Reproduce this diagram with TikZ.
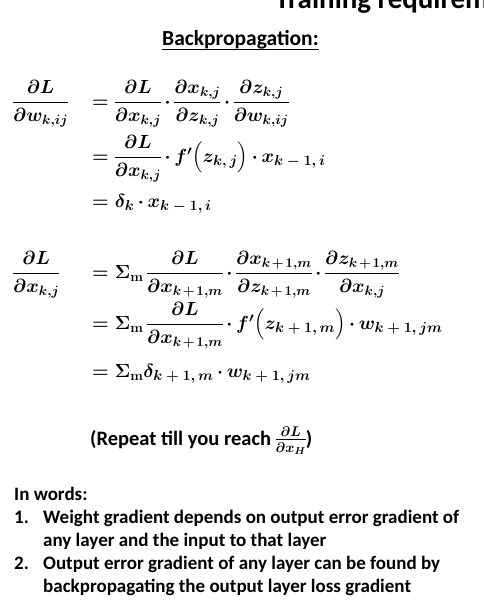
\RequirePackage{fix-cm}
\documentclass[tikz,border=0pt]{standalone}
\usepackage{amsmath}
\usepackage[no-math]{fontspec}
\setmainfont{Carlito}
\usetikzlibrary{positioning}
\DeclareMathSizes{19}{19}{13.5}{10}
\DeclareMathSizes{20.5}{20.5}{14}{10}
\setlength{\nulldelimiterspace}{0pt}
\newcommand{\kpo}{k\mskip2mu{+}\mskip2mu1}
\newcommand{\dt}{\mskip3mu{\cdot}\mskip3mu}
\newcommand{\osub}[1]{\text{\boldmath\fontsize{14.5}{15}\selectfont$#1$}}
\tikzset{%
  heading/.style = {anchor=base west, inner sep=0pt,%
                    font=\bfseries\fontsize{29}{34}\selectfont},%
  subhead/.style = {anchor=base west, inner sep=0pt,%
                    font=\bfseries\fontsize{21.5}{25}\selectfont},%
  words/.style   = {anchor=base west, inner sep=0pt,%
                    font=\bfseries\fontsize{19}{23}\selectfont},%
  eqn/.style     = {anchor=base west, inner sep=0pt,%
                    font=\boldmath\fontsize{19}{23}\selectfont},%
  note/.style    = {words, font=\bfseries\boldmath\fontsize{20.5}{24}\selectfont}%
}

\begin{document}
\begin{tikzpicture}[x=1pt,y=-1pt]%
	\useasboundingbox (0,0) rectangle (483,615);
	\clip (0,0) rectangle (483,615);
	\node [heading] (title) at (275,9) {Training requirem};
	\node [subhead] (bp) at (162,46) {Backpropagation:};
	\draw [line width=1pt] ([yshift=-4pt]bp.base west) -- ([yshift=-4pt]bp.base east);
	% weight gradient
	\node [eqn] (dw) at (13,107.5) {$\dfrac{\partial L}{\partial w_{k,ij}}$};
	\node [eqn] (dwa) at (92,107.5) {$=\dfrac{\partial L}{\partial x_{k,j}}\dt
		\dfrac{\partial x_{k,j}}{\partial z_{k,j}}\dt
		\dfrac{\partial z_{k,j}}{\partial w_{k,ij}}$};
	\node [eqn] (dwb) at (92,162.5) {$=\dfrac{\partial L}{\partial x_{k,j}}\dt
		f'\Big(z_{\osub{k,j}}\Big)\dt x_{\osub{k-1,i}}$};
	\node [eqn] (dwc) at (92,207) {$=\delta_{\osub{k}}\dt x_{\osub{k-1,i}}$};
	% output error gradient
	\node [eqn] (dx) at (13,278.5) {$\dfrac{\partial L}{\partial x_{k,j}}$};
	\node [eqn] (dxa) at (92,278.5) {$=\Sigma_{\mathrm{m}}\,\dfrac{\partial L}{\partial x_{\kpo,m}}\dt
		\dfrac{\partial x_{\kpo,m}}{\partial z_{\kpo,m}}\dt
		\dfrac{\partial z_{\kpo,m}}{\partial x_{k,j}}$};
	\node [eqn] (dxb) at (92,329.5) {$=\Sigma_{\mathrm{m}}\,\dfrac{\partial L}{\partial x_{\kpo,m}}\dt
		f'\Big(z_{\osub{k+1,m}}\Big)\dt w_{\osub{k+1,jm}}$};
	\node [eqn] (dxc) at (92,377.5) {$=\Sigma_{\mathrm{m}}\delta_{\osub{k+1,m}}\dt w_{\osub{k+1,jm}}$};
	\node [note] (rep) at (90,445) {(Repeat till you reach $\frac{\partial L}{\partial x_H}$)};
	% in words
	\node [words] (inw) at (14,500) {In words:};
	\node [words] (n1) at (14,523) {1.};
	\node [words] (l1a) at (43,523) {Weight gradient depends on output error gradient of};
	\node [words] (l1b) at (43,546) {any layer and the input to that layer};
	\node [words] (n2) at (14,569) {2.};
	\node [words] (l2a) at (43,569) {Output error gradient of any layer can be found by};
	\node [words] (l2b) at (43,592) {backpropagating the output layer loss gradient};
\end{tikzpicture}
\end{document}
